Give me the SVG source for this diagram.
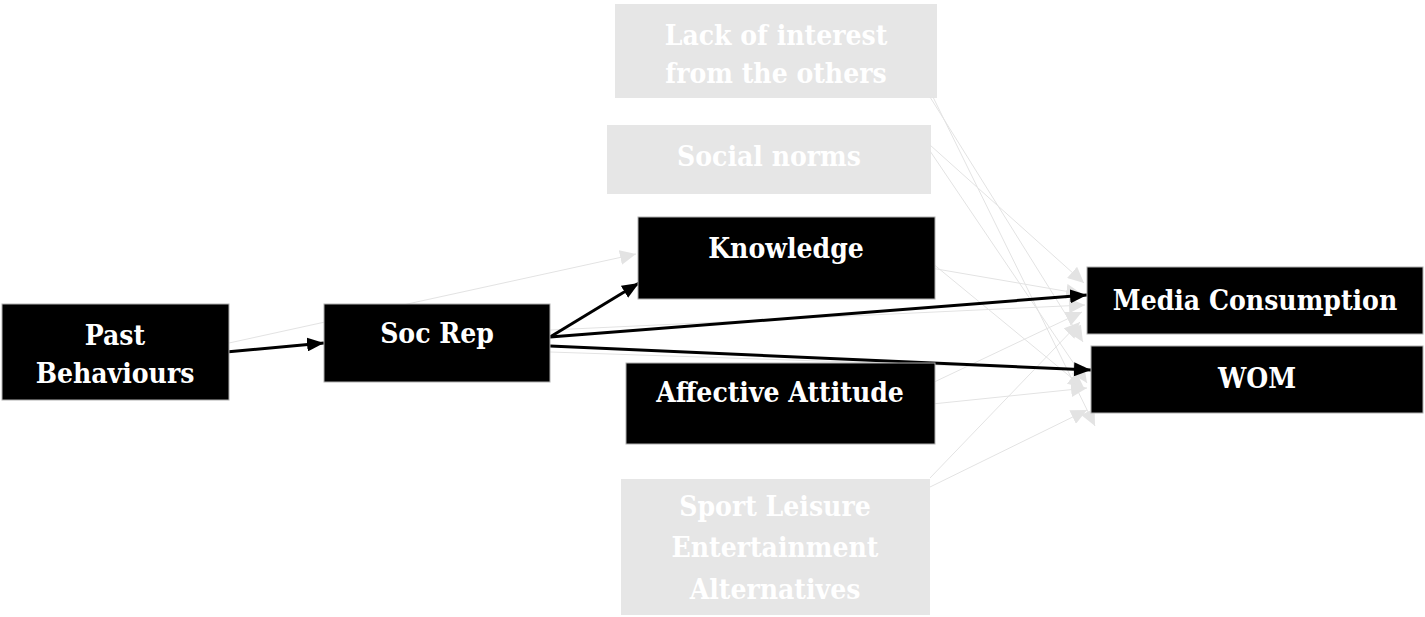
<svg xmlns="http://www.w3.org/2000/svg" width="1425" height="617" viewBox="0 0 1425 617">
<style>
.blk{fill:#000;stroke:#b0b0b0;stroke-width:1}
.gry{fill:#e6e6e6}
.t{font-family:"DejaVu Serif Condensed","DejaVu Serif","Liberation Serif",serif;font-stretch:condensed;font-weight:bold;font-size:28px;fill:#fff;text-anchor:middle}
.gl{stroke:#e3e3e3;stroke-width:1;fill:none;marker-end:url(#ga)}
.bl{stroke:#000;stroke-width:3;fill:none;marker-end:url(#ba)}
</style>
<defs>
<marker id="ba" markerUnits="userSpaceOnUse" markerWidth="18" markerHeight="14" refX="17" refY="7" orient="auto"><path d="M0,0 L17,7 L0,14 z" fill="#000"/></marker>
<marker id="ga" markerUnits="userSpaceOnUse" markerWidth="17" markerHeight="15" refX="16" refY="7.5" orient="auto"><path d="M0,0 L16,7.5 L0,15 z" fill="#e3e3e3"/></marker>
</defs>
<rect width="1425" height="617" fill="#fff"/>
<g id="lack"><rect class="gry" x="615" y="4" width="322" height="94"/><text class="t" x="776" y="45">Lack of interest</text><text class="t" x="776" y="83">from the others</text></g>
<g id="norms"><rect class="gry" x="607" y="125" width="324" height="69"/><text class="t" x="769" y="166">Social norms</text></g>
<g id="sport"><rect class="gry" x="621" y="479" width="309" height="136"/><text class="t" x="775" y="516">Sport Leisure</text><text class="t" x="775" y="557">Entertainment</text><text class="t" x="775" y="599">Alternatives</text></g>
<g id="connectors">
<line class="gl" x1="930" y1="97" x2="1083" y2="342"/>
<line class="gl" x1="933" y1="97" x2="1095" y2="426"/>
<line class="gl" x1="930" y1="145" x2="1084" y2="283"/>
<line class="gl" x1="930" y1="151" x2="1087" y2="383"/>
<line class="gl" x1="925" y1="267" x2="1082" y2="294"/>
<line class="gl" x1="932" y1="263" x2="1084" y2="388"/>
<line class="gl" x1="930" y1="384" x2="1082" y2="312"/>
<line class="gl" x1="932" y1="404" x2="1087" y2="388"/>
<line class="gl" x1="930" y1="478" x2="1080" y2="322"/>
<line class="gl" x1="930" y1="487" x2="1087" y2="410"/>
<line class="gl" x1="229" y1="343" x2="636" y2="254"/>
<line class="gl" x1="550" y1="330" x2="1085" y2="305"/>
<line class="gl" x1="550" y1="352" x2="1089" y2="370"/>
<line class="bl" x1="226" y1="352" x2="324" y2="343"/>
<line class="bl" x1="550" y1="337" x2="639" y2="283"/>
<line class="bl" x1="550" y1="337" x2="1087" y2="295"/>
<line class="bl" x1="550" y1="346" x2="1091" y2="370"/>
</g>
<g id="past"><rect class="blk" x="2" y="304" width="227" height="96"/><text class="t" x="115" y="345">Past</text><text class="t" x="115" y="383">Behaviours</text></g>
<g id="socrep"><rect class="blk" x="324" y="304" width="226" height="78"/><text class="t" x="437" y="343">Soc Rep</text></g>
<g id="knowledge"><rect class="blk" x="638" y="217" width="297" height="82"/><text class="t" x="786" y="258">Knowledge</text></g>
<g id="affective"><rect class="blk" x="626" y="363" width="309" height="81"/><text class="t" x="780" y="402">Affective Attitude</text></g>
<g id="media"><rect class="blk" x="1087" y="267" width="336" height="67"/><text class="t" x="1255" y="310">Media Consumption</text></g>
<g id="wom"><rect class="blk" x="1091" y="346" width="332" height="67"/><text class="t" x="1257" y="388">WOM</text></g>
</svg>
